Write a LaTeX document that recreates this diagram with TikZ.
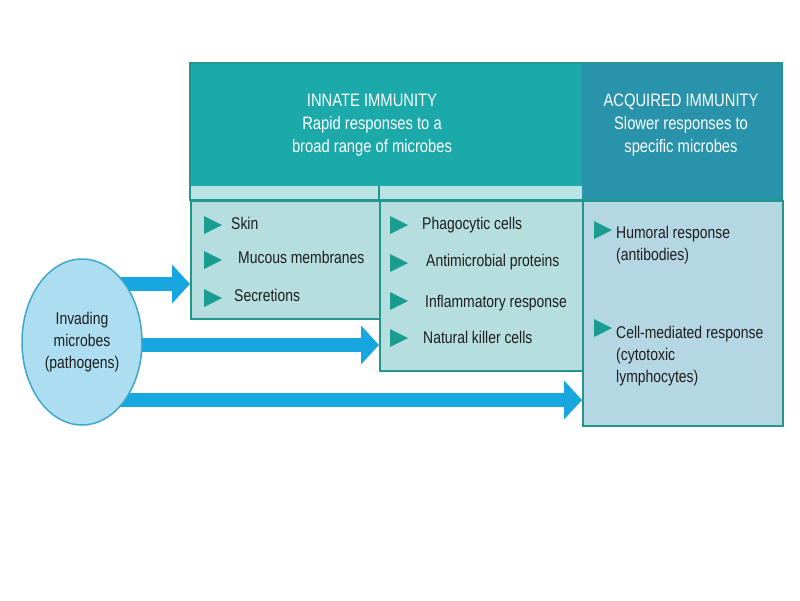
\documentclass[tikz,border=0pt]{standalone}
\usepackage{fontspec}
\setmainfont[FakeStretch=0.82]{Liberation Sans}
\usetikzlibrary{arrows.meta,shapes.geometric}
\definecolor{innhead}{HTML}{1BA9AA}
\definecolor{acqhead}{HTML}{2993AC}
\definecolor{strip}{HTML}{B9E3E3}
\definecolor{innbox}{HTML}{B6DEDF}
\definecolor{acqbox}{HTML}{B5D7E4}
\definecolor{edge}{HTML}{22958C}
\definecolor{bulcol}{HTML}{1B9C90}
\definecolor{arrcol}{HTML}{17A6DF}
\definecolor{ellfill}{HTML}{ADDDF0}
\definecolor{elledge}{HTML}{3FA8CB}
\definecolor{txt}{HTML}{1E1E1E}
\pgfdeclarelayer{bg}
\pgfsetlayers{bg,main}
\tikzset{
  boxstyle/.style={draw=edge, line width=2pt, anchor=north west, inner sep=0pt},
  headtxt/.style={text=white, font=\fontsize{18}{23}\selectfont, align=center, inner sep=0pt},
  item/.style={text=txt, font=\fontsize{17}{22}\selectfont, anchor=west, align=left, inner sep=0pt, text height=12pt, text depth=4pt},
  item2/.style={text=txt, font=\fontsize{17}{22}\selectfont, anchor=west, align=left, inner sep=0pt},
  bigarrow/.style={draw=arrcol, line width=14pt, -{Triangle[width=38pt,length=18pt]}},
  bul/.pic={\fill[bulcol] (0,-9) -- (18,0) -- (0,9) -- cycle;}
}
\begin{document}
\begin{tikzpicture}[x=1pt,y=-1pt]
\useasboundingbox (0,0) rectangle (800,600);
\begin{pgfonlayer}{bg}
\fill[white] (0,0) rectangle (800,600);
\end{pgfonlayer}

% headers
\node[fill=innhead, anchor=north west, inner sep=0pt, minimum width=392pt, minimum height=123pt] (hin) at (190,63) {};
\node[fill=strip, anchor=north west, inner sep=0pt, minimum width=392pt, minimum height=14pt] (strip) at (190,186) {};
\node[fill=acqhead, anchor=north west, inner sep=0pt, minimum width=200pt, minimum height=137pt] (hacq) at (582,63) {};
\draw[edge, line width=1.5pt] (190,63) rectangle (782,200);
\draw[edge, line width=2pt] (379,186) -- (379,200);

\node[headtxt] (tin) at (372,125) {INNATE IMMUNITY\\Rapid responses to a\\broad range of microbes};
\node[headtxt] (tacq) at (681,125) {ACQUIRED IMMUNITY\\Slower responses to\\specific microbes};

% boxes
\node[boxstyle, fill=innbox, minimum width=189pt, minimum height=118pt] (b1) at (190,200) {};
\node[boxstyle, fill=innbox, minimum width=203pt, minimum height=170pt] (b2) at (379,200) {};
\node[boxstyle, fill=acqbox, minimum width=200pt, minimum height=225pt] (b3) at (582,200) {};

% box 1 items
\pic at (204,225) {bul};
\pic at (204,260) {bul};
\pic at (204,298) {bul};
\node[item] (s1) at (231,225) {Skin};
\node[item] (s2) at (238,259) {Mucous membranes};
\node[item] (s3) at (234,297) {Secretions};

% box 2 items
\pic at (390,225) {bul};
\pic at (390,263) {bul};
\pic at (390,301) {bul};
\pic at (390,338) {bul};
\node[item] (p1) at (422,225) {Phagocytic cells};
\node[item] (p2) at (426,262) {Antimicrobial proteins};
\node[item] (p3) at (425,303) {Inflammatory response};
\node[item] (p4) at (423,339) {Natural killer cells};

% box 3 items
\pic at (594,230) {bul};
\pic at (594,328) {bul};
\node[item2] (a1) at (616,245) {Humoral response\\(antibodies)};
\node[item2] (a2) at (616,356) {Cell-mediated response\\(cytotoxic\\lymphocytes)};

% microbes
\node[ellipse, draw=elledge, line width=1.5pt, fill=ellfill, minimum width=120pt, minimum height=166pt, inner sep=0pt, align=center, text=txt, font=\fontsize{17}{22}\selectfont] (mic) at (82,342) {Invading\\microbes\\(pathogens)};

% arrows
\begin{pgfonlayer}{bg}
\draw[bigarrow] (mic.center |- 0,284) -- (b1.west |- 0,284);
\draw[bigarrow] (mic.center |- 0,345) -- (b2.west |- 0,345);
\draw[bigarrow] (mic.center |- 0,400) -- (b3.west |- 0,400);
\end{pgfonlayer}
\end{tikzpicture}
\end{document}
